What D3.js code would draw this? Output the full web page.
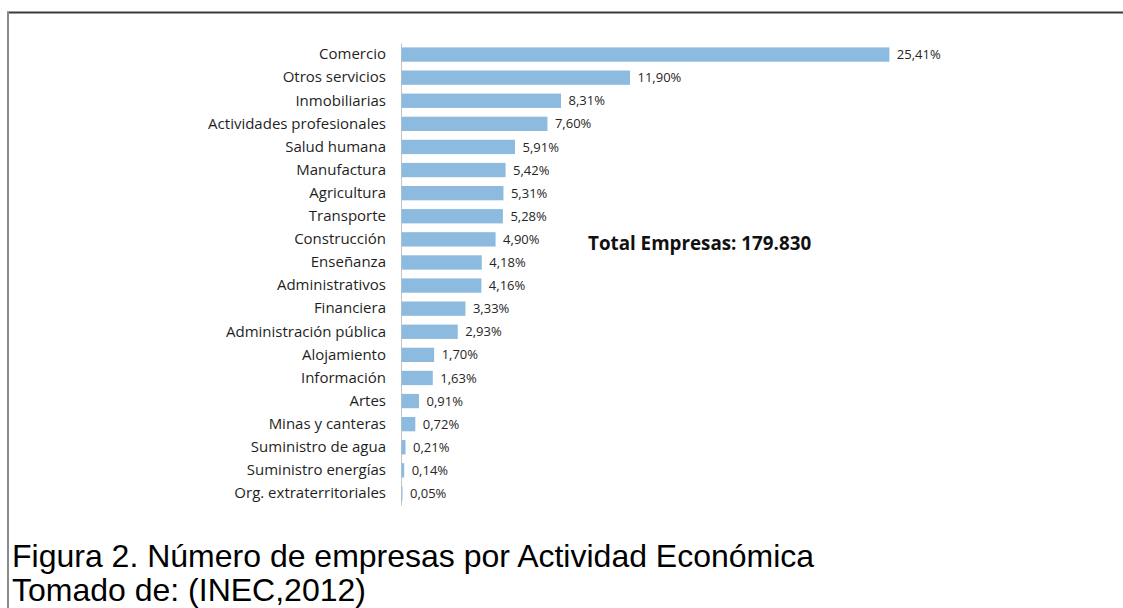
<!DOCTYPE html>
<html>
<head>
<meta charset="utf-8">
<script src="https://cdn.jsdelivr.net/npm/d3@7"></script>
<style>
  html, body { margin: 0; padding: 0; background: #ffffff; }
  svg { display: block; }
</style>
</head>
<body>
<svg id="chart" width="1123" height="608"></svg>
<script>
// Economic activities and their share of companies (%)
const categories = [
  "Comercio", "Otros servicios", "Inmobiliarias", "Actividades profesionales",
  "Salud humana", "Manufactura", "Agricultura", "Transporte", "Construcción",
  "Enseñanza", "Administrativos", "Financiera", "Administración pública",
  "Alojamiento", "Información", "Artes", "Minas y canteras",
  "Suministro de agua", "Suministro energías", "Org. extraterritoriales"
];
const shares = [
  25.41, 11.90, 8.31, 7.60, 5.91, 5.42, 5.31, 5.28, 4.90,
  4.18, 4.16, 3.33, 2.93, 1.70, 1.63, 0.91, 0.72, 0.21, 0.14, 0.05
];
const totalLabel = "Total Empresas: 179.830";
const captionLines = [
  "Figura 2. Número de empresas por Actividad Económica",
  "Tomado de: (INEC,2012)"
];

const svg = d3.select("#chart");
const W = 1123, H = 608;

// Frame: dark top rule and grey left rule
svg.append("line").attr("x1", 7).attr("x2", W).attr("y1", 12.5).attr("y2", 12.5)
  .attr("stroke", "#3a3a3a").attr("stroke-width", 2);
svg.append("line").attr("x1", 8).attr("x2", 8).attr("y1", 12).attr("y2", H)
  .attr("stroke", "#8a8a8a").attr("stroke-width", 2);

const x = d3.scaleLinear().domain([0, 30]).range([401, 977]);
const y = d3.scaleBand().domain(categories).range([43, 505]).paddingInner(0.38).paddingOuter(0.19);

const fmt = v => d3.format(".2f")(v).replace(".", ",") + "%";
const font = "'Open Sans', 'DejaVu Sans', sans-serif";

// Category axis on the left
const yAxis = d3.axisLeft(y).tickSize(0).tickPadding(15);
const gy = svg.append("g").attr("transform", `translate(${x(0)},0)`).call(yAxis);
gy.select(".domain").attr("stroke", "#c4c4c4").attr("stroke-width", 1);
gy.selectAll("text")
  .attr("font-family", font).attr("font-size", 15).attr("fill", "#1f1f1f");

const data = categories.map((c, i) => ({ c, v: shares[i] }));

// Bars
svg.append("g").selectAll("rect").data(data).join("rect")
  .attr("x", x(0) + 0.5)
  .attr("y", d => y(d.c))
  .attr("width", d => Math.max(0, x(d.v) - x(0)))
  .attr("height", y.bandwidth())
  .attr("fill", "#8dbbdf");

// Value labels
svg.append("g").selectAll("text").data(data).join("text")
  .attr("x", d => x(d.v) + 8)
  .attr("y", d => y(d.c) + y.bandwidth() / 2)
  .attr("dy", "0.35em")
  .attr("font-family", font).attr("font-size", 13).attr("fill", "#262626")
  .text(d => fmt(d.v));

// Total annotation
svg.append("text")
  .attr("x", 588).attr("y", 250)
  .attr("font-family", font).attr("font-size", 18.8).attr("font-weight", "bold")
  .attr("fill", "#111")
  .text(totalLabel);

// Caption
svg.append("g").selectAll("text").data(captionLines).join("text")
  .attr("x", 12)
  .attr("y", (d, i) => 567 + i * 34)
  .attr("font-family", "'Liberation Sans', Arial, sans-serif")
  .attr("font-size", 32).attr("fill", "#000")
  .text(d => d);
</script>
</body>
</html>
